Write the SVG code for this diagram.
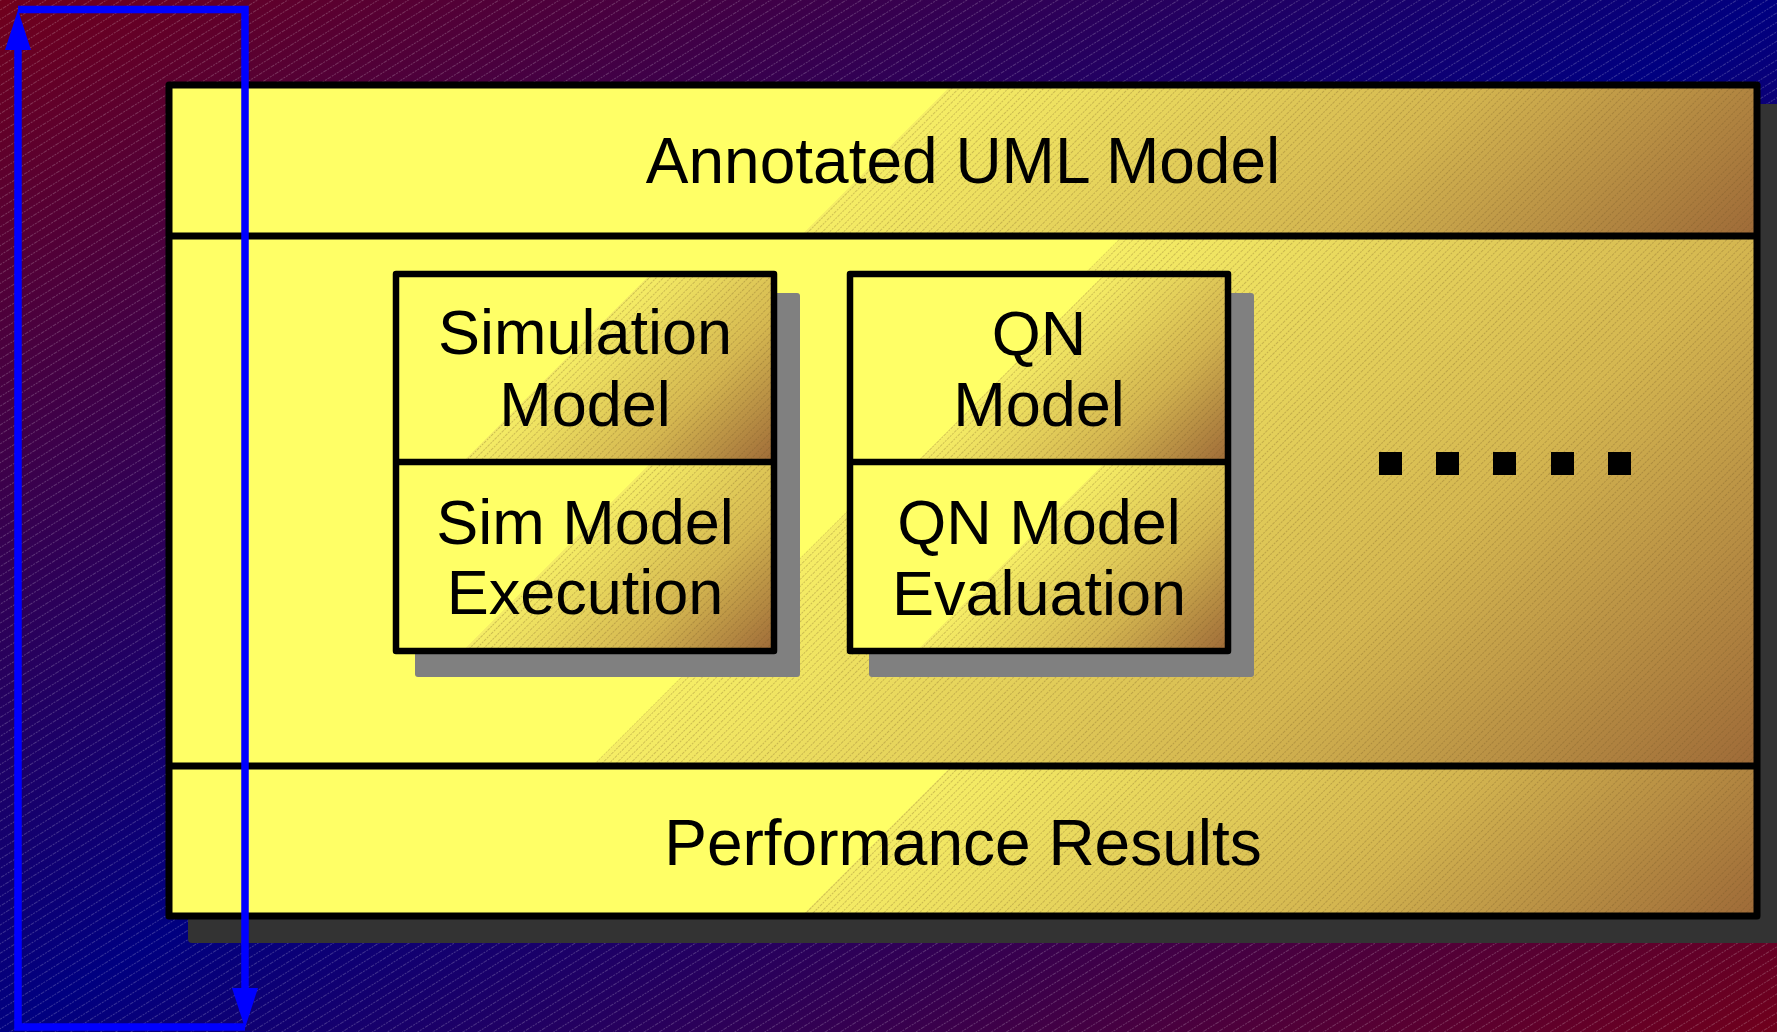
<svg xmlns="http://www.w3.org/2000/svg" width="1777" height="1032" viewBox="0 0 1777 1032">
<defs>
<style>
.lbl{font-family:"Liberation Sans",Arial,sans-serif;fill:#000;text-anchor:middle}
.big{font-size:64px}
.sm{font-size:63px}
.frame{fill:none;stroke:#000;stroke-width:7;stroke-linejoin:round}
.iframe{fill:none;stroke:#000;stroke-width:6.5;stroke-linejoin:round}
.div{stroke:#000;stroke-width:7}
.idiv{stroke:#000;stroke-width:6.5}
.hatch{fill:url(#boxHatch)}
.conn{fill:none;stroke:#0000ff;stroke-width:7.5;stroke-linejoin:miter}
</style>
<linearGradient id="bg" x1="0" y1="0" x2="1" y2="1">
<stop offset="0" stop-color="#70001c"/>
<stop offset="0.5" stop-color="#000080"/>
<stop offset="1" stop-color="#70001c"/>
</linearGradient>
<pattern id="bgHatch" patternUnits="userSpaceOnUse" width="14" height="8" patternTransform="rotate(-32)">
<line x1="0" y1="0.5" x2="14" y2="0.5" stroke="#ffffff" stroke-opacity="0.2" stroke-width="1" stroke-dasharray="2 1"/>
</pattern>
<pattern id="boxHatch" patternUnits="userSpaceOnUse" width="10" height="5" patternTransform="rotate(-45)">
<line x1="0" y1="0.5" x2="10" y2="0.5" stroke="#6a5020" stroke-opacity="0.28" stroke-width="1" stroke-dasharray="2 1"/>
</pattern>
<linearGradient id="yb">
<stop offset="0" stop-color="#ffff66"/>
<stop offset="0.45" stop-color="#ffff66"/>
<stop offset="0.45" stop-color="#f6ee66"/>
<stop offset="0.75" stop-color="#d4b650"/>
<stop offset="1" stop-color="#9e6a38"/>
</linearGradient>
<linearGradient id="gTop" href="#yb" gradientUnits="userSpaceOnUse" x1="169" y1="85" x2="1038.5" y2="954.5"/>
<linearGradient id="gMid" href="#yb" gradientUnits="userSpaceOnUse" x1="169" y1="236" x2="1228" y2="1295"/>
<linearGradient id="gBot" href="#yb" gradientUnits="userSpaceOnUse" x1="169" y1="766" x2="1038" y2="1635"/>
<linearGradient id="gSimT" href="#yb" gradientUnits="userSpaceOnUse" x1="396" y1="274" x2="679" y2="557"/>
<linearGradient id="gSimB" href="#yb" gradientUnits="userSpaceOnUse" x1="396" y1="462" x2="679.5" y2="745.5"/>
<linearGradient id="gQnT" href="#yb" gradientUnits="userSpaceOnUse" x1="850" y1="274" x2="1133" y2="557"/>
<linearGradient id="gQnB" href="#yb" gradientUnits="userSpaceOnUse" x1="850" y1="462" x2="1133.5" y2="745.5"/>
<marker id="arrow" markerUnits="userSpaceOnUse" markerWidth="42" markerHeight="28" refX="0" refY="13" orient="auto" overflow="visible">
<path d="M0,0 L40,13 L0,26 z" fill="#0000ff"/>
</marker>
</defs>

<g id="background">
<rect x="0" y="0" width="1777" height="1032" fill="url(#bg)"/>
<rect x="0" y="0" width="1777" height="1032" fill="url(#bgHatch)"/>
</g>

<g id="annotated-uml-model">
<rect x="188" y="104" width="1600" height="839" rx="4" fill="#333333"/>
<rect x="169" y="85" width="1588" height="151" fill="url(#gTop)"/>
<polygon class="hatch" points="951.6,85 1757,85 1757,236 800.6,236"/>
<rect x="169" y="236" width="1588" height="530" fill="url(#gMid)"/>
<polygon class="hatch" points="1122.1,236 1757,236 1757,766 592.1,766"/>
<rect x="169" y="766" width="1588" height="150" fill="url(#gBot)"/>
<polygon class="hatch" points="951.1,766 1757,766 1757,916 801.1,916"/>
<rect class="frame" x="169" y="85" width="1588" height="831"/>
<line class="div" x1="169" y1="236" x2="1757" y2="236"/>
<line class="div" x1="169" y1="766" x2="1757" y2="766"/>
<text class="lbl big" x="963" y="183">Annotated UML Model</text>
<text class="lbl big" x="963" y="865">Performance Results</text>
</g>

<g id="simulation-model">
<rect x="415" y="293" width="385" height="384" rx="3" fill="#808080"/>
<rect x="396" y="274" width="378" height="188" fill="url(#gSimT)"/>
<polygon class="hatch" points="650.7,274 774,274 774,462 462.7,462"/>
<rect x="396" y="462" width="378" height="189" fill="url(#gSimB)"/>
<polygon class="hatch" points="651.2,462 774,462 774,651 462.2,651"/>
<rect class="iframe" x="396" y="274" width="378" height="377"/>
<line class="idiv" x1="396" y1="462" x2="774" y2="462"/>
<text class="lbl sm" x="585" y="354">Simulation</text>
<text class="lbl sm" x="585" y="426">Model</text>
<text class="lbl sm" x="585" y="544">Sim Model</text>
<text class="lbl sm" x="585" y="614">Execution</text>
</g>

<g id="qn-model">
<rect x="869" y="293" width="385" height="384" rx="3" fill="#808080"/>
<rect x="850" y="274" width="378" height="188" fill="url(#gQnT)"/>
<polygon class="hatch" points="1104.7,274 1228,274 1228,462 916.7,462"/>
<rect x="850" y="462" width="378" height="189" fill="url(#gQnB)"/>
<polygon class="hatch" points="1105.2,462 1228,462 1228,651 916.2,651"/>
<rect class="iframe" x="850" y="274" width="378" height="377"/>
<line class="idiv" x1="850" y1="462" x2="1228" y2="462"/>
<text class="lbl sm" x="1039" y="355">QN</text>
<text class="lbl sm" x="1039" y="426">Model</text>
<text class="lbl sm" x="1039" y="544">QN Model</text>
<text class="lbl sm" x="1039" y="615">Evaluation</text>
</g>

<g id="ellipsis" fill="#000">
<rect x="1379" y="452" width="23" height="23"/>
<rect x="1436" y="452" width="23" height="23"/>
<rect x="1493" y="452" width="23" height="23"/>
<rect x="1551" y="452" width="23" height="23"/>
<rect x="1608" y="452" width="23" height="23"/>
</g>

<g id="connectors">
<path class="conn" d="M245,1027 L18,1027 L18,50" marker-end="url(#arrow)"/>
<path class="conn" d="M18,9.5 L245,9.5 L245,988" marker-end="url(#arrow)"/>
</g>
</svg>
